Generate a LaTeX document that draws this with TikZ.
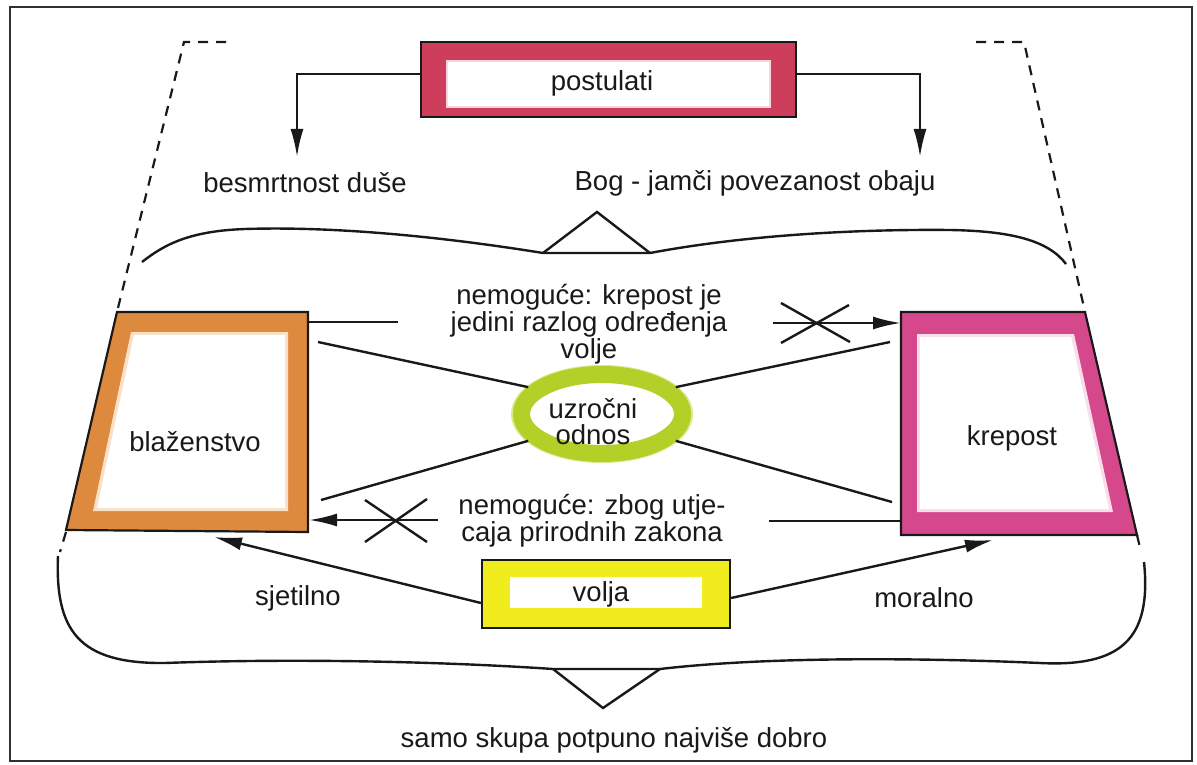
\documentclass[tikz,border=0pt]{standalone}
\usepackage{fontspec}
\setmainfont{Liberation Sans}
\usetikzlibrary{arrows.meta,shapes.geometric}
\definecolor{postred}{RGB}{204,62,92}
\definecolor{postpink}{RGB}{246,214,220}
\definecolor{orangeC}{RGB}{221,138,62}
\definecolor{orangeL}{RGB}{248,225,200}
\definecolor{magC}{RGB}{214,72,140}
\definecolor{magL}{RGB}{248,222,235}
\definecolor{greenC}{RGB}{178,208,40}
\definecolor{greenL}{RGB}{218,234,140}
\definecolor{yellowC}{RGB}{240,236,30}
\definecolor{inkC}{RGB}{25,25,25}
\begin{document}
\begin{tikzpicture}[x=1pt,y=-1pt,
  lbl/.style={font=\fontsize{27.5}{27}\selectfont, inner sep=0pt, align=center, text=inkC},
  conn/.style={line width=2.4pt, draw=inkC},
  arr/.style={conn, -{Latex[length=28pt,width=13pt]}},
  dsh/.style={line width=2.2pt, draw=inkC, dash pattern=on 10pt off 8pt},
  brace/.style={line width=2.4pt, draw=inkC, line join=miter},
  outline/.style={line width=2.2pt, draw=inkC, line join=miter},
]
\useasboundingbox (0,0) rectangle (1197,765);
\fill[white] (0,0) rectangle (1197,765);
\draw[line width=2.5pt, draw=inkC!90] (10,7) rectangle (1192,761);

% dashed guide lines
\coordinate (dl0) at (226,42);
\coordinate (dl1) at (184,42);
\coordinate (dl2) at (117,312);
\coordinate (dl3) at (66,532);
\coordinate (dl4) at (60,552);
\coordinate (dr0) at (976,42);
\coordinate (dr1) at (1024,42);
\coordinate (dr2) at (1085,312);
\coordinate (dr3) at (1137,535);
\coordinate (dr4) at (1141,552);
\draw[dsh] (dl0) -- (dl1) -- (dl2);
\draw[dsh] (dl3) -- (dl4);
\draw[dsh] (dr0) -- (dr1) -- (dr2);
\draw[dsh] (dr3) -- (dr4);

% postulati box
\node[draw=inkC, line width=2.2pt, fill=postred, minimum width=375pt, minimum height=75pt, inner sep=0pt] (post) at (608.5,79.5) {};
\node[fill=white, draw=postpink, line width=2pt, minimum width=323pt, minimum height=46pt, inner sep=0pt] (postin) at (608.5,84) {};
\node[lbl] (posttxt) at (602,83) {postulati};

\node[lbl] (bes) at (305,183) {besmrtnost duše};
\node[lbl] (bog) at (755,183) {Bog - jamči povezanost obaju};
\coordinate (besTip) at (297,157);
\coordinate (bogTip) at (920,157);
\draw[arr] ([yshift=5.5pt]post.west) -| (besTip);
\draw[arr] ([yshift=5.5pt]post.east) -| (bogTip);

% top brace
\coordinate (tb1) at (543,253);
\coordinate (tb2) at (650,253);
\coordinate (tbA) at (597,212);
\draw[brace] (142,262) .. controls (165,244) and (190,231) .. (245,229)
  .. controls (340,226) and (450,238) .. (tb1) -- (tb2)
  .. controls (740,236) and (850,229) .. (950,230)
  .. controls (1010,231) and (1048,240) .. (1066,264);
\draw[brace] (tb1) -- (tbA) -- (tb2);

% left box (blazenstvo)
\fill[orangeC] (117,312) -- (308,312) -- (308,532) -- (66,530) -- cycle;
\fill[orangeL] (131,332) -- (288,332) -- (288,511) -- (93,511) -- cycle;
\fill[white] (134,335) -- (285,335) -- (285,508) -- (97,508) -- cycle;
\draw[outline] (117,312) -- (308,312) -- (308,532) -- (66,530) -- cycle;
\node[lbl] (bla) at (195,442) {blaženstvo};

% right box (krepost)
\fill[magC] (901,312) -- (1085,312) -- (1137,535) -- (901,535) -- cycle;
\fill[magL] (917,334) -- (1074,334) -- (1113,512) -- (917,512) -- cycle;
\fill[white] (920,337) -- (1071,337) -- (1109,509) -- (920,509) -- cycle;
\draw[outline] (901,312) -- (1085,312) -- (1137,535) -- (901,535) -- cycle;
\node[lbl] (kre) at (1012,438) {krepost};

% ellipse
\draw[greenL, line width=10pt] (602,414) ellipse [x radius=86pt, y radius=44pt];
\node[ellipse, draw=greenC, line width=17pt, minimum width=161pt, minimum height=79pt, inner sep=0pt] (uz) at (602,414) {};
\node[lbl, font=\fontsize{27.5}{26}\selectfont] (uztxt) at (593,422) {uzročni\\odnos};

% connectors box - ellipse
\coordinate (bl1) at (318,342);
\coordinate (bl2) at (321,500);
\coordinate (kr1) at (890,342);
\coordinate (kr2) at (892,502);
\draw[conn] (bl1) -- (uz.160);
\draw[conn] (bl2) -- (uz.200);
\draw[conn] (uz.20) -- (kr1);
\draw[conn] (uz.-20) -- (kr2);

% texts in the middle
\node[lbl] (nem1) at (589,324) {nemoguće: krepost je\\jedini razlog određenja\\volje};
\node[lbl] (nem2) at (592,521) {nemoguće: zbog utje-\\caja prirodnih zakona};

% top impossible arrow
\coordinate (ta0) at (308,322);
\coordinate (ta1) at (398,322);
\coordinate (ta2) at (773,323);
\coordinate (ta3) at (901,323);
\draw[conn] (ta0) -- (ta1);
\draw[arr] (ta2) -- (ta3);
\draw[conn] (781,303) -- (850,342);
\draw[conn] (849,305) -- (781,343);

% bottom impossible arrow
\coordinate (ba0) at (901,521);
\coordinate (ba1) at (769,521);
\coordinate (ba2) at (438,520);
\coordinate (ba3) at (309,520);
\draw[conn] (ba0) -- (ba1);
\draw[arr] (ba2) -- (ba3);
\draw[conn] (365,500) -- (427,542);
\draw[conn] (427,499) -- (365,542);

% volja
\node[draw=inkC, line width=2.2pt, fill=yellowC, minimum width=248pt, minimum height=68pt, inner sep=0pt] (volja) at (606,594) {};
\node[fill=white, minimum width=192pt, minimum height=31pt, inner sep=0pt] (voljain) at (606,592.5) {};
\node[lbl] (voljatxt) at (601,594) {volja};
\coordinate (vl) at (214,537);
\coordinate (vr) at (993,540);
\draw[arr] ([yshift=-9pt]volja.west) -- (vl);
\draw[arr] ([yshift=-4pt]volja.east) -- (vr);
\node[lbl] (sje) at (298,598) {sjetilno};
\node[lbl] (mor) at (924,598) {moralno};

% bottom brace
\coordinate (bb1) at (553,669);
\coordinate (bb2) at (660,669);
\coordinate (bbA) at (603,708);
\draw[brace] (58,556) .. controls (55,630) and (78,664) .. (165,663)
  .. controls (300,658) and (450,662) .. (bb1) -- (bb2)
  .. controls (780,655) and (950,659) .. (1040,663)
  .. controls (1120,667) and (1152,640) .. (1144,562);
\draw[brace] (bb1) -- (bbA) -- (bb2);

\node[lbl] (samo) at (614,740) {samo skupa potpuno najviše dobro};
\end{tikzpicture}
\end{document}
